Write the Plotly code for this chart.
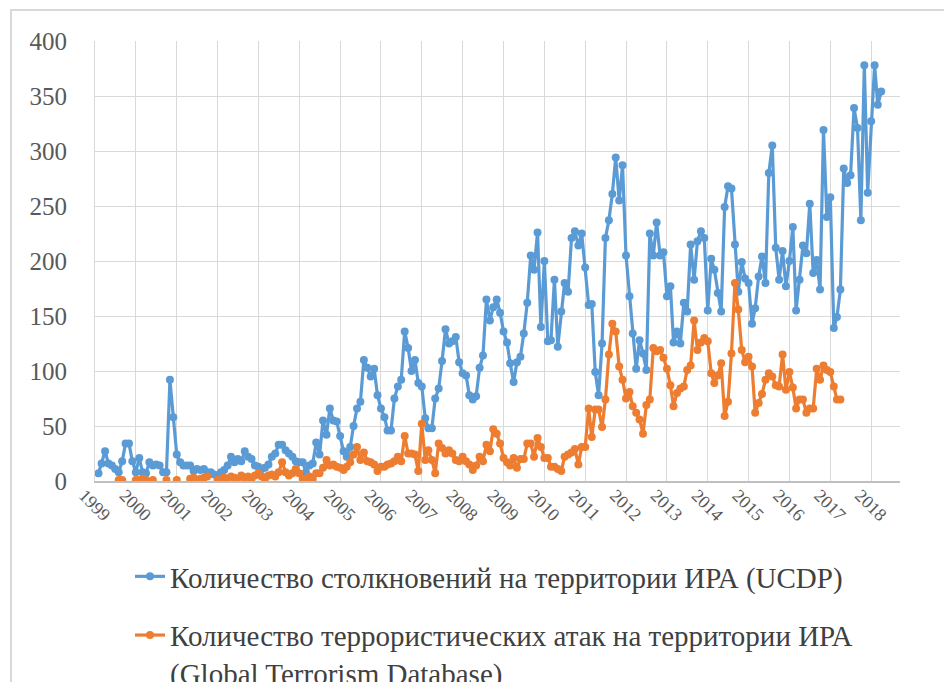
import pandas as pd
import plotly.graph_objects as go

# ---------------- data ----------------
years = list(range(1999, 2019))
year_labels = [str(y) for y in years]
y_ticks = [0, 50, 100, 150, 200, 250, 300, 350, 400]

ucdp_name = "Количество столкновений на территории ИРА (UCDP)"
gtd_name = "Количество террористических атак на территории ИРА<br>(Global Terrorism Database)"

# monthly clashes (UCDP), first value = Feb 1999
ucdp_start = "1999-02-01"
ucdp = [
    7, 16, 27, 16, 14, 11, 8, 18, 34, 34, 18,                 # 1999 (Feb-Dec)
    8, 21, 8, 7, 17, 14, 15, 14, 8, 8, 92, 58,                # 2000
    24, 17, 14, 14, 14, 9, 11, 10, 11, 8, 8, 6,               # 2001
    5, 8, 10, 14, 22, 17, 20, 18, 27, 22, 20, 14,             # 2002
    13, 11, 12, 15, 22, 25, 33, 33, 28, 25, 22, 18,           # 2003
    17, 17, 8, 14, 16, 35, 24, 55, 42, 66, 55, 54,            # 2004
    41, 27, 22, 31, 50, 66, 72, 110, 103, 95, 102, 78,        # 2005
    66, 58, 46, 46, 75, 86, 92, 136, 121, 100, 110, 89,       # 2006
    86, 57, 48, 48, 75, 84, 109, 138, 125, 127, 131, 108,     # 2007
    98, 96, 78, 74, 77, 103, 114, 165, 146, 158, 165, 153,    # 2008
    136, 126, 107, 90, 108, 113, 134, 162, 205, 192, 226, 140,  # 2009
    200, 127, 128, 183, 122, 154, 180, 172, 221, 227, 214, 225,  # 2010
    194, 160, 161, 99, 78, 125, 221, 237, 261, 294, 255, 287,    # 2011
    205, 168, 134, 102, 128, 116, 101, 225, 205, 235, 205, 208,  # 2012
    168, 177, 126, 136, 125, 162, 154, 215, 183, 218, 227, 221,  # 2013
    155, 202, 192, 171, 154, 249, 268, 266, 215, 172, 199, 184,  # 2014
    180, 143, 157, 186, 204, 180, 280, 305, 212, 183, 209, 177,  # 2015
    200, 231, 155, 183, 214, 207, 252, 189, 201, 174, 319, 240,  # 2016
    258, 139, 149, 174, 284, 271, 278, 339, 321, 237, 378, 262,  # 2017
    327, 378, 342, 354,                                          # 2018
]

# monthly terrorist attacks (GTD), first value = Aug 1999; None = no data
gtd_start = "1999-08-01"
gtd = [
    1, 1, None, None, None,                                      # 1999 (Aug-Dec)
    1, 1, 2, 1, None, 1, None, None, None, 1, None, None,        # 2000
    1, None, None, None, 2, 3, 1, 2, 3, 4, None, None,           # 2001
    1, 1, 3, 2, 4, 3, 2, 5, 3, 4, 2, 5,                          # 2002
    7, 4, 2, 5, 6, 4, 8, 17, 8, 5, 7, 11,                        # 2003
    7, 2, 1, 4, 2, 7, 7, 12, 19, 14, 15, 13,                     # 2004
    12, 10, 13, 17, 24, 31, 19, 26, 18, 17, 15, 9,               # 2005
    13, 13, 15, 16, 18, 22, 18, 41, 25, 25, 24, 9,               # 2006
    52, 19, 28, 19, 7, 34, 30, 25, 28, 25, 19, 18,               # 2007
    22, 18, 15, 10, 14, 22, 18, 33, 27, 47, 43, 34,              # 2008
    21, 17, 14, 21, 12, 20, 20, 34, 34, 22, 39, 31,              # 2009
    21, 21, 13, 13, 11, 9, 22, 24, 26, 29, 15, 31,               # 2010
    31, 66, 40, 65, 65, 49, 74, 115, 143, 136, 104, 92,          # 2011
    75, 81, 68, 62, 56, 43, 69, 74, 121, 118, 119, 112,          # 2012
    102, 87, 68, 80, 84, 86, 101, 105, 146, 119, 126, 130,       # 2013
    127, 98, 89, 96, 107, 59, 72, 116, 180, 156, 119, 108,       # 2014
    113, 104, 62, 71, 79, 92, 98, 95, 87, 86, 115, 83,           # 2015
    99, 85, 66, 74, 74, 62, 66, 66, 102, 92, 105, 101,           # 2016
    99, 86, 74, 74,                                              # 2017
]

# ---------------- figure ----------------
ucdp_x = pd.date_range(ucdp_start, periods=len(ucdp), freq="MS")
gtd_x = pd.date_range(gtd_start, periods=len(gtd), freq="MS")

BLUE = "#5B9BD5"
ORANGE = "#ED7D31"
GRID = "#D9D9D9"
TXT = "#595959"
FONT = "Liberation Serif, Times New Roman, serif"

fig = go.Figure()
fig.add_trace(go.Scatter(
    x=ucdp_x, y=ucdp, mode="lines+markers", name=ucdp_name,
    legendgroup="a",
    line=dict(color=BLUE, width=3.2),
    marker=dict(color=BLUE, size=8),
))
fig.add_trace(go.Scatter(
    x=gtd_x, y=gtd, mode="lines+markers", name=gtd_name,
    legendgroup="b", connectgaps=False,
    line=dict(color=ORANGE, width=3.2),
    marker=dict(color=ORANGE, size=8),
))

W, H = 944, 682
L, R, T, B = 95, 44, 41, 201
pw, ph = W - L - R, H - T - B

fig.update_layout(
    width=W, height=H,
    margin=dict(l=L, r=R, t=T, b=B, autoexpand=False),
    paper_bgcolor="white", plot_bgcolor="white",
    font=dict(family=FONT, color=TXT),
    showlegend=True,
    legend=dict(
        xref="container", yref="container",
        x=130 / W, y=1 - 551 / H, xanchor="left", yanchor="top",
        font=dict(family=FONT, size=29, color="#404040"),
        tracegroupgap=18, valign="top",
        bgcolor="rgba(0,0,0,0)",
    ),
)

fig.update_xaxes(
    type="date", range=["1999-01-01", "2018-09-16"],
    tickvals=[f"{y}-01-01" for y in years], ticktext=year_labels,
    tickangle=45, tickfont=dict(family=FONT, size=18, color=TXT),
    ticklabelshift=-11, ticklabelstandoff=-5,
    showgrid=True, gridcolor=GRID, gridwidth=1,
    showline=True, linecolor="#BFBFBF", linewidth=1.5,
    zeroline=False, ticks="", automargin=False,
)
fig.update_yaxes(
    range=[0, 400], tickvals=y_ticks,
    tickfont=dict(family=FONT, size=25, color=TXT),
    showgrid=True, gridcolor=GRID, gridwidth=1,
    showline=True, linecolor=GRID, linewidth=1,
    zeroline=False, ticks="", ticklabelstandoff=22, automargin=False,
)

# outer chart frame (partially outside the captured area)
fig.add_shape(
    type="rect", xref="paper", yref="paper",
    x0=(11 - L) / pw, x1=1.3, y0=-0.8, y1=(H - B - 10) / ph,
    line=dict(color=GRID, width=2), fillcolor="rgba(0,0,0,0)", layer="below",
)

fig.write_html(
    "out.html",
    config={"displayModeBar": False},
    post_script="document.body.style.margin='0';document.body.style.padding='0';",
)
